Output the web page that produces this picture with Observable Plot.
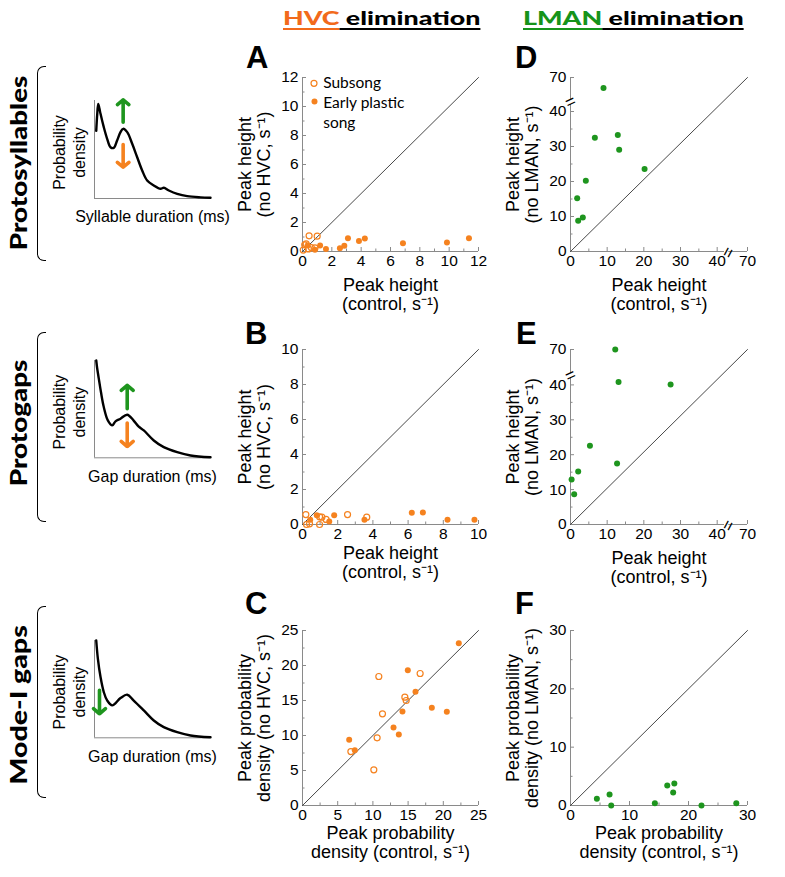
<!DOCTYPE html>
<html><head><meta charset="utf-8">
<script src="https://cdn.jsdelivr.net/npm/d3@7"></script>
<script src="https://cdn.jsdelivr.net/npm/@observablehq/plot@0.6"></script>
<style>
body{margin:0;background:#fff;}
#fig{position:relative;width:785px;height:877px;overflow:hidden;background:#fff;font-family:"Liberation Sans",Arial,sans-serif;}
.pos{position:absolute;}
.letter{position:absolute;font:bold 31px "Liberation Sans",Arial,sans-serif;line-height:1;color:#000;}
.coltitle{position:absolute;font-family:Lato,"Open Sans",sans-serif;font-weight:900;font-size:19px;line-height:1;white-space:nowrap;transform-origin:0 0;}
.coltitle span{text-decoration:underline;text-decoration-thickness:2px;text-underline-offset:3px;}
.rowlabel{position:absolute;font-family:Lato,"Open Sans",sans-serif;font-weight:900;font-size:23px;line-height:1;white-space:nowrap;color:#000;}
.bracket{position:absolute;border:1.6px solid #000;border-right:none;border-radius:7px 0 0 7px;width:9px;box-sizing:border-box;}
</style>
</head><body>
<div id="fig"></div>
<script>
// ---------- data ----------
const colTitles = [["HVC", " elimination"], ["LMAN", " elimination"]];
const rowLabels = ["Protosyllables", "Protogaps", "Mode-I gaps"];
const panelLetters = ["A", "B", "C", "D", "E", "F"];
const legendLabels = ["Subsong", "Early plastic\nsong"];

// Panel A: protosyllables, HVC elimination  [control, no HVC]
const aSubsong = [[0.45,1.08],[1.0,1.06],[0.15,0.46],[0.6,0.27],[0.85,0.25],[0.4,0.18],[0.05,0.1],[0.25,0.52]];
const aEarly = [[0.35,0.42],[0.85,0.12],[1.2,0.41],[1.6,0.17],[2.55,0.22],[2.85,0.4],[3.1,0.92],[3.85,0.72],[4.25,0.9],[6.85,0.57],[9.85,0.62],[11.35,0.92]];
// Panel B: protogaps, HVC elimination
const bSubsong = [[0.19,0.57],[0.97,0.44],[1.1,0.42],[1.34,0.29],[2.56,0.57],[3.65,0.42],[0.23,0.0],[0.4,0.04],[0.97,0.0]];
const bEarly = [[0.44,0.27],[0.81,0.53],[1.52,0.17],[1.8,0.53],[3.52,0.27],[6.21,0.67],[6.84,0.69],[8.24,0.27],[9.77,0.27]];
// Panel C: mode-I gaps, HVC elimination
const cSubsong = [[10.84,18.43],[16.71,18.86],[14.54,15.48],[14.73,15.0],[11.36,13.1],[10.6,9.67],[6.87,7.71],[10.13,5.1]];
const cEarly = [[6.63,9.38],[7.43,7.9],[14.96,19.33],[16.05,16.24],[14.2,13.43],[12.93,11.14],[13.68,10.14],[18.37,13.95],[20.5,13.38],[22.2,23.19]];
// Panels D-F: LMAN elimination  [control, no LMAN]
const dPoints = [[9.0,58],[6.64,32.5],[12.9,33.3],[13.27,29.1],[20.2,23.6],[4.18,20.2],[1.82,15.2],[3.36,9.7],[2.09,8.8]];
const ePoints = [[12.2,70],[13.1,40.8],[27.3,40.1],[5.3,22.6],[12.7,17.5],[2.1,15.2],[0.3,12.9],[1.0,8.7]];
const fPoints = [[4.47,1.14],[6.62,1.89],[6.9,0],[14.3,0.4],[16.4,3.43],[17.6,3.78],[17.4,2.23],[22.2,0],[28.1,0.4]];

// tick values
const ticksA = [0,2,4,6,8,10,12], minorA = [1,3,5,7,9,11];
const ticksB = [0,2,4,6,8,10], minorB = [1,3,5,7,9];
const ticksC = [0,5,10,15,20,25], minorC = [2.5,7.5,12.5,17.5,22.5];
const ticksDE = [0,10,20,30,40,70], minorDE = [5,15,25,35];
const ticksF = [0,10,20,30], minorF = [5,15,25];

// axis labels
const yLabelHVC = "Peak height\n(no HVC, s⁻¹)";
const yLabelLMAN = "Peak height\n(no LMAN, s⁻¹)";
const xLabelHeight = "Peak height\n(control, s⁻¹)";
const yLabelDensHVC = "Peak probability\ndensity (no HVC, s⁻¹)";
const yLabelDensLMAN = "Peak probability\ndensity (no LMAN, s⁻¹)";
const xLabelDens = "Peak probability\ndensity (control, s⁻¹)";

// schematic insets (arbitrary units 0-100)
const curveSyllables = [[1.5,69],[2.3,85],[3.2,96.6],[4.2,92],[5.2,86.4],[8,72.8],[10.9,60.9],[13.8,52.3],[16.6,51.7],[19.5,59.2],[22.4,67.7],[24.7,71.1],[28.2,67.7],[32.5,55.8],[36.8,42.1],[41.1,28.6],[45.4,18.4],[51.1,13.3],[56.9,9.9],[59.8,10.9],[64.1,8.2],[71.3,4.8],[79.9,2.4],[91.4,1.2],[100,0.8]];
const curveProtogaps = [[1.5,100],[2.3,92],[3.7,81.4],[5.6,67.3],[8,52.2],[11.5,38.5],[15.3,33.3],[18.1,37.4],[22.4,40.2],[28.2,44.3],[33.6,38.5],[37.9,32.3],[42.5,28.1],[51.1,17.8],[59.7,10.9],[71.3,5.8],[82.8,2.4],[100,0.5]];
const curveMode1 = [[1.5,100],[2.9,81.3],[5.2,62.4],[8,47],[10.9,38.4],[15.3,33.3],[22.4,40.8],[28.2,44.3],[33.6,38.5],[42.5,28.1],[51.1,17.8],[59.7,10.9],[71.3,5.8],[82.8,2.4],[100,0.5]];
const arrowsSyllables = [{x:24.7,y1:77.9,y2:100.7,c:"green"},{x:24.7,y1:55.1,y2:31.9,c:"orange"}];
const arrowsProtogaps = [{x:28.2,y1:50.5,y2:74.5,c:"green"},{x:28.2,y1:35.7,y2:11.6,c:"orange"}];
const arrowsMode1 = [{x:4.3,y1:48.8,y2:24.7,c:"green"}];
const insetXLabels = ["Syllable duration (ms)", "Gap duration (ms)", "Gap duration (ms)"];
const insetYLabel = "Probability\ndensity";

// ---------- styling / layout ----------
const ORANGE = "#F5821F", GREEN = "#1E951E", TITLE_ORANGE = "#F26A1B", TITLE_GREEN = "#16931A";
const axisGray = "#8a8a8a";
const FONT = '"Liberation Sans", Arial, Helvetica, sans-serif';
const ML = 85, MT = 45, MR = 30, MB = 75;
const fig = document.getElementById("fig");
const svgStyle = {background: "transparent", overflow: "visible", fontFamily: FONT, fontSize: "15.5px", color: "black"};

function place(node, left, top) {
  const wrap = document.createElement("div");
  wrap.className = "pos";
  wrap.style.left = left + "px";
  wrap.style.top = top + "px";
  wrap.appendChild(node);
  fig.appendChild(wrap);
}
const X = d => d[0], Y = d => d[1];

function panel(o) {
  const W = o.pw + ML + MR, H = o.ph + MT + MB;
  const xd = o.brk ? [0, o.brk, o.max] : [0, o.max];
  const xr = o.brk ? [ML, ML + o.xBreakPx, ML + o.pw] : [ML, ML + o.pw];
  const yr = o.brk ? [MT + o.ph, MT + o.ph - o.yBreakPx, MT] : [MT + o.ph, MT];
  const segs = o.brk ? [[0, o.brk - 1.0], [o.brk + 0.8, o.max]] : [[0, o.max]];
  const marks = [
    Plot.ruleY(segs, {y: 0, x1: X, x2: Y, stroke: axisGray, strokeWidth: 1}),
    Plot.ruleX(segs, {x: 0, y1: X, y2: Y, stroke: axisGray, strokeWidth: 1}),
    Plot.axisX({ticks: o.ticks, tickSize: -4, tickPadding: 7.5, stroke: axisGray, fill: "black", label: null}),
    Plot.axisX({ticks: o.minor, tickSize: -2.5, tickPadding: 0, tickFormat: () => "", stroke: axisGray, label: null}),
    Plot.axisY({ticks: o.ticks, tickSize: -4, tickPadding: 8, stroke: axisGray, fill: "black", label: null}),
    Plot.axisY({ticks: o.minor, tickSize: -2.5, tickPadding: 0, tickFormat: () => "", stroke: axisGray, label: null}),
    Plot.line([[0, 0], [o.max, o.max]], {x: X, y: Y, stroke: "#333", strokeWidth: 0.9}),
    ...o.marks,
    Plot.text([o.ylabel], {text: d => d, frameAnchor: "left", dx: -48, rotate: -90, fontSize: 18, lineHeight: 1.08, textAnchor: "middle", lineAnchor: "middle"}),
    Plot.text([o.xlabel], {text: d => d, frameAnchor: "bottom", dy: o.xdy, fontSize: 18, lineHeight: 1.08, textAnchor: "middle", lineAnchor: "middle"})
  ];
  if (o.brk) {
    marks.push(Plot.text(["="], {text: d => d, x: o.brk, y: 0, rotate: -62, fontSize: 17, lineAnchor: "middle", dy: 1}));
    marks.push(Plot.text(["="], {text: d => d, x: 0, y: o.brk, rotate: -25, fontSize: 17, lineAnchor: "middle", dy: 1}));
  }
  const chart = Plot.plot({
    width: W, height: H, marginLeft: ML, marginRight: MR, marginTop: MT, marginBottom: MB,
    style: svgStyle,
    x: {type: "linear", domain: xd, range: xr, label: null},
    y: {type: "linear", domain: xd, range: yr, label: null},
    marks
  });
  place(chart, o.px - ML, o.py - MT);
}

const openDots = (data, color) => Plot.dot(data, {x: X, y: Y, r: 3, stroke: color, strokeWidth: 1.2, fill: "none"});
const fillDots = (data, color) => Plot.dot(data, {x: X, y: Y, r: 3, fill: color});

const legendMarks = [
  Plot.dot([legendLabels[0]], {frameAnchor: "top-left", dx: 11.5, dy: 5.8, r: 3, stroke: ORANGE, strokeWidth: 1.2, fill: "none"}),
  Plot.dot([legendLabels[1]], {frameAnchor: "top-left", dx: 12, dy: 24, r: 3, fill: ORANGE}),
  Plot.text([legendLabels[0]], {text: d => d, frameAnchor: "top-left", dx: 20.7, dy: 5.8, textAnchor: "start", lineAnchor: "middle", fontSize: 15.5, fontFamily: "Lato, sans-serif"}),
  Plot.text([legendLabels[1]], {text: d => d, frameAnchor: "top-left", dx: 20.7, dy: 34, textAnchor: "start", lineAnchor: "middle", lineHeight: 1.29, fontSize: 15.5, fontFamily: "Lato, sans-serif"})
];

const col1 = 302, col2 = 569.5, pw1 = 176, pw2 = 177;
const rowsY = [77, 349, 630], rowsH = [174, 175, 175];

panel({px: col1, py: rowsY[0], pw: pw1, ph: rowsH[0], max: 12, ticks: ticksA, minor: minorA,
  ylabel: yLabelHVC, xlabel: xLabelHeight, xdy: 43,
  marks: [openDots(aSubsong, ORANGE), fillDots(aEarly, ORANGE), ...legendMarks]});
panel({px: col1, py: rowsY[1], pw: pw1, ph: rowsH[1], max: 10, ticks: ticksB, minor: minorB,
  ylabel: yLabelHVC, xlabel: xLabelHeight, xdy: 37.5,
  marks: [openDots(bSubsong, ORANGE), fillDots(bEarly, ORANGE)]});
panel({px: col1, py: rowsY[2], pw: pw1, ph: rowsH[2], max: 25, ticks: ticksC, minor: minorC,
  ylabel: yLabelDensHVC, xlabel: xLabelDens, xdy: 37,
  marks: [openDots(cSubsong, ORANGE), fillDots(cEarly, ORANGE)]});
panel({px: col2, py: rowsY[0], pw: pw2, ph: rowsH[0], max: 70, brk: 43, xBreakPx: 43 * 3.667, yBreakPx: 43 * 3.5,
  ticks: ticksDE, minor: minorDE, ylabel: yLabelLMAN, xlabel: xLabelHeight, xdy: 43,
  marks: [fillDots(dPoints, GREEN)]});
panel({px: col2, py: rowsY[1], pw: pw2, ph: rowsH[1], max: 70, brk: 43, xBreakPx: 43 * 3.667, yBreakPx: 43 * 3.49,
  ticks: ticksDE, minor: minorDE, ylabel: yLabelLMAN, xlabel: xLabelHeight, xdy: 43,
  marks: [fillDots(ePoints, GREEN)]});
panel({px: col2, py: rowsY[2], pw: pw2, ph: rowsH[2], max: 30, ticks: ticksF, minor: minorF,
  ylabel: yLabelDensLMAN, xlabel: xLabelDens, xdy: 37,
  marks: [fillDots(fPoints, GREEN)]});

// ---------- insets ----------
const insetRows = [
  {top: 100, bottom: 198, curve: curveSyllables, arrows: arrowsSyllables, xlabel: insetXLabels[0]},
  {top: 360, bottom: 457.3, curve: curveProtogaps, arrows: arrowsProtogaps, xlabel: insetXLabels[1]},
  {top: 640, bottom: 737.3, curve: curveMode1, arrows: arrowsMode1, xlabel: insetXLabels[2]}
];
const arrowColor = {green: GREEN, orange: ORANGE};
for (const r of insetRows) {
  const mt = 15, mb = 45;
  const chart = Plot.plot({
    width: 230, height: (r.bottom - r.top) + mt + mb,
    marginLeft: 94, marginRight: 20, marginTop: mt, marginBottom: mb,
    style: svgStyle,
    x: {domain: [0, 100], axis: null},
    y: {domain: [0, 100], axis: null},
    color: {type: "identity"},
    marks: [
      Plot.ruleX([0], {stroke: axisGray}),
      Plot.ruleY([0], {stroke: axisGray}),
      Plot.line(r.curve, {x: X, y: Y, stroke: "black", strokeWidth: 2.4, curve: "catmull-rom"}),
      Plot.arrow(r.arrows, {x1: "x", x2: "x", y1: "y1", y2: "y2", stroke: d => arrowColor[d.c], strokeWidth: 3.6, headLength: 5, headAngle: 100}),
      Plot.text([insetYLabel], {text: d => d, frameAnchor: "left", dx: -26, dy: 3, rotate: -90, fontSize: 16, lineHeight: 1.25, textAnchor: "middle", lineAnchor: "middle"}),
      Plot.text([r.xlabel], {text: d => d, frameAnchor: "bottom", dy: 18.7, fontSize: 16, textAnchor: "middle", lineAnchor: "middle"})
    ]
  });
  place(chart, 0, r.top - mt);
}

// ---------- decorations: titles, letters, row labels, brackets ----------
const titleGeom = [{left: 282.7, width: 197.3, color: TITLE_ORANGE}, {left: 522.7, width: 220.6, color: TITLE_GREEN}];
colTitles.forEach((t, i) => {
  const g = titleGeom[i];
  const el = document.createElement("div");
  el.className = "coltitle";
  el.style.left = g.left + "px";
  el.style.top = "8.2px";
  const s1 = document.createElement("span"); s1.textContent = t[0]; s1.style.color = g.color;
  const s2 = document.createElement("span"); s2.textContent = t[1]; s2.style.color = "#000";
  el.appendChild(s1); el.appendChild(s2);
  fig.appendChild(el);
  el.style.transform = `scaleX(${g.width / el.offsetWidth})`;
});

const letterGeom = [[246, 68], [245, 344], [245, 614], [515, 68], [516, 344], [515, 614]];
panelLetters.forEach((L, i) => {
  const el = document.createElement("div");
  el.className = "letter";
  el.textContent = L;
  el.style.left = letterGeom[i][0] + "px";
  el.style.top = (letterGeom[i][1] - 26.2) + "px";
  fig.appendChild(el);
});

const rowGeom = [{cy: 162.5, len: 175, bt: 66, bb: 260.7}, {cy: 423, len: 127, bt: 331.7, bb: 521.7}, {cy: 705, len: 160, bt: 606, bb: 798.3}];
rowLabels.forEach((lab, i) => {
  const g = rowGeom[i];
  const el = document.createElement("div");
  el.className = "rowlabel";
  el.textContent = lab;
  el.style.left = "18px";
  el.style.top = g.cy + "px";
  fig.appendChild(el);
  const s = g.len / el.offsetWidth;
  el.style.transformOrigin = "0 0";
  el.style.transform = `rotate(-90deg) scaleX(${s}) translate(-50%, -50%)`;
  const b = document.createElement("div");
  b.className = "bracket";
  b.style.left = "36.5px";
  b.style.top = g.bt + "px";
  b.style.height = (g.bb - g.bt) + "px";
  fig.appendChild(b);
});
</script>
</body></html>
